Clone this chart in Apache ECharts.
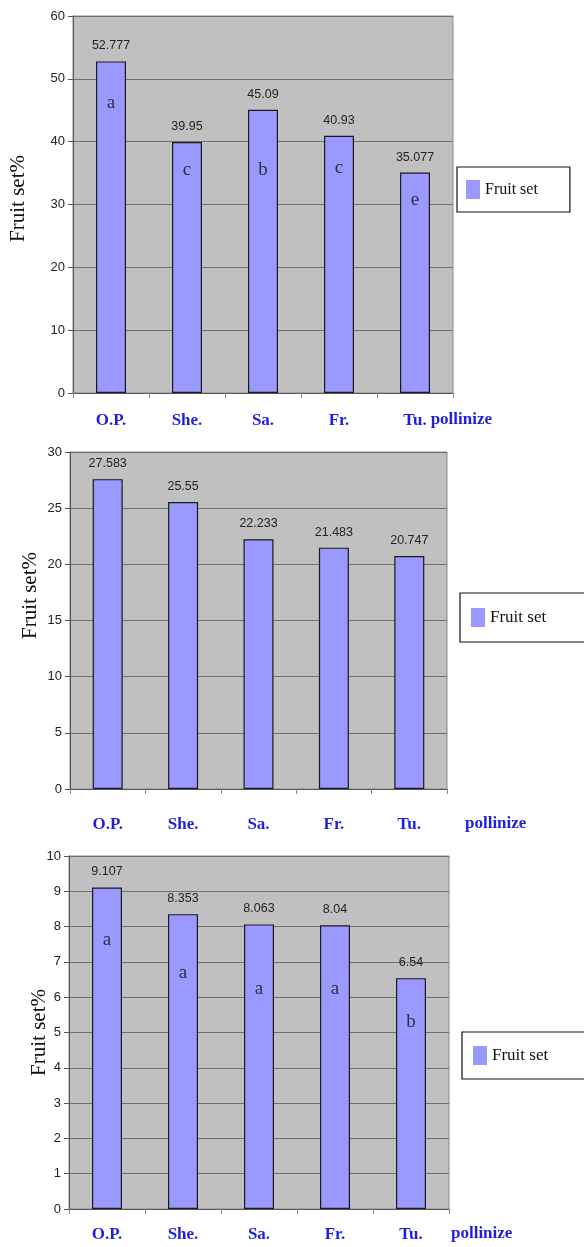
<!DOCTYPE html>
<html>
<head>
<meta charset="utf-8">
<script src="https://cdn.jsdelivr.net/npm/echarts@6/dist/echarts.min.js"></script>
<style>
html,body{margin:0;padding:0;background:#fff;}
#c{width:584px;height:1247px;}
</style>
</head>
<body>
<div id="c"></div>
<script>
// ---- data ----
const categories = ['O.P.', 'She.', 'Sa.', 'Fr.', 'Tu.'];
const axisTitle = 'pollinize';
const seriesName = 'Fruit set';
const yTitle = 'Fruit set%';

const values1 = [52.777, 39.95, 45.09, 40.93, 35.077];
const letters1 = ['a', 'c', 'b', 'c', 'e'];
const letterAt1 = [46.2, 35.5, 35.5, 35.8, 30.7];

const values2 = [27.583, 25.55, 22.233, 21.483, 20.747];

const values3 = [9.107, 8.353, 8.063, 8.04, 6.54];
const letters3 = ['a', 'a', 'a', 'a', 'b'];
const letterAt3 = [7.62, 6.69, 6.23, 6.23, 5.30];

const yMax = [60, 30, 10];
const yStep = [10, 5, 1];

// ---- layout / style ----
const grids = [
  {left: 73, top: 16, width: 380, height: 377},
  {left: 70, top: 452, width: 377, height: 337},
  {left: 69, top: 856, width: 380, height: 353}
];
const xLabelMargin = [19, 27, 17];
const nameGaps = [-25, 18, 2];
const namePad = [18, 26, 16];
const yNameGap = [44, 29, 19];
const yNamePad = [[0,0,0,12],[0,0,0,50],[0,0,0,0]];
const legendPos = [
  {left: 457, top: 167, padding: [13, 32, 13, 9], font: 16},
  {left: 460, top: 593, padding: [15, 70, 15, 11], font: 17},
  {left: 462, top: 1032, padding: [14, 70, 14, 11], font: 17}
];

const barColor = '#9999ff';
const blue = '#1f1fe0';

const chart = echarts.init(document.getElementById('c'));

const option = {
  backgroundColor: '#ffffff',
  animation: false,
  grid: grids.map(g => Object.assign({
    show: true, backgroundColor: '#c0c0c0', borderColor: '#8a8a8a', borderWidth: 1,
    containLabel: false
  }, g)),
  legend: legendPos.map((p, i) => ({
    data: [seriesName + (i ? ' '.repeat(i) : '')],
    left: p.left, top: p.top, padding: p.padding,
    orient: 'vertical',
    backgroundColor: '#fff', borderColor: '#111', borderWidth: 1.2,
    itemWidth: 14, itemHeight: 19, itemGap: 0,
    itemStyle: {borderWidth: 0, color: barColor},
    formatter: () => seriesName,
    textStyle: {fontFamily: 'Liberation Serif', fontSize: p.font, color: '#111'},
    icon: 'rect'
  })),
  xAxis: grids.map((g, i) => ({
    type: 'category', gridIndex: i, data: categories,
    name: axisTitle, nameLocation: 'end', nameGap: nameGaps[i],
    nameTextStyle: {fontFamily: 'Liberation Serif', fontWeight: 'bold', fontSize: 17, color: blue,
      verticalAlign: 'top', align: 'left', padding: [namePad[i], 0, 0, 0]},
    axisLine: {show: true, lineStyle: {color: '#555', width: 1}},
    axisTick: {show: true, length: 5, alignWithLabel: false, lineStyle: {color: '#888'}},
    axisLabel: {margin: xLabelMargin[i], fontFamily: 'Liberation Serif', fontWeight: 'bold',
      fontSize: 17, color: blue},
    splitLine: {show: false}
  })),
  yAxis: grids.map((g, i) => ({
    type: 'value', gridIndex: i, min: 0, max: yMax[i], interval: yStep[i],
    name: yTitle, nameLocation: 'middle', nameGap: yNameGap[i], nameRotate: 90,
    nameMoveOverlap: false,
    nameTextStyle: {fontFamily: 'Liberation Serif', fontSize: 21, color: '#111',
      padding: yNamePad[i]},
    axisLine: {show: true, lineStyle: {color: '#555', width: 1}},
    axisTick: {show: true, length: 5, inside: false, lineStyle: {color: '#555'}},
    axisLabel: {fontFamily: 'Liberation Sans', fontSize: 13, color: '#222', margin: 8},
    splitLine: {show: true, lineStyle: {color: '#6f6f6f', width: 1}}
  })),
  series: []
};

const valueSets = [values1, values2, values3];
valueSets.forEach((vals, i) => {
  option.series.push({
    name: seriesName + (i ? ' '.repeat(i) : ''),
    type: 'bar', xAxisIndex: i, yAxisIndex: i,
    data: vals, barWidth: 30,
    itemStyle: {color: barColor, borderColor: '#1a1a1a', borderWidth: 1.2},
    label: {show: true, position: 'top', distance: 9, fontFamily: 'Liberation Sans',
      fontSize: 12.5, color: '#222', formatter: p => String(p.value)},
    z: 3
  });
});

function letterSeries(idx, letters, at) {
  return {
    type: 'scatter', xAxisIndex: idx, yAxisIndex: idx, symbolSize: 1,
    itemStyle: {color: 'rgba(0,0,0,0)'},
    data: at.map((v, k) => ({value: [k, v], letter: letters[k]})),
    label: {show: true, position: 'inside', fontFamily: 'Liberation Serif', fontSize: 19,
      color: '#111', formatter: p => p.data.letter},
    silent: true, z: 5
  };
}
option.series.push(letterSeries(0, letters1, letterAt1));
option.series.push(letterSeries(2, letters3, letterAt3));

chart.setOption(option);
</script>
</body>
</html>
